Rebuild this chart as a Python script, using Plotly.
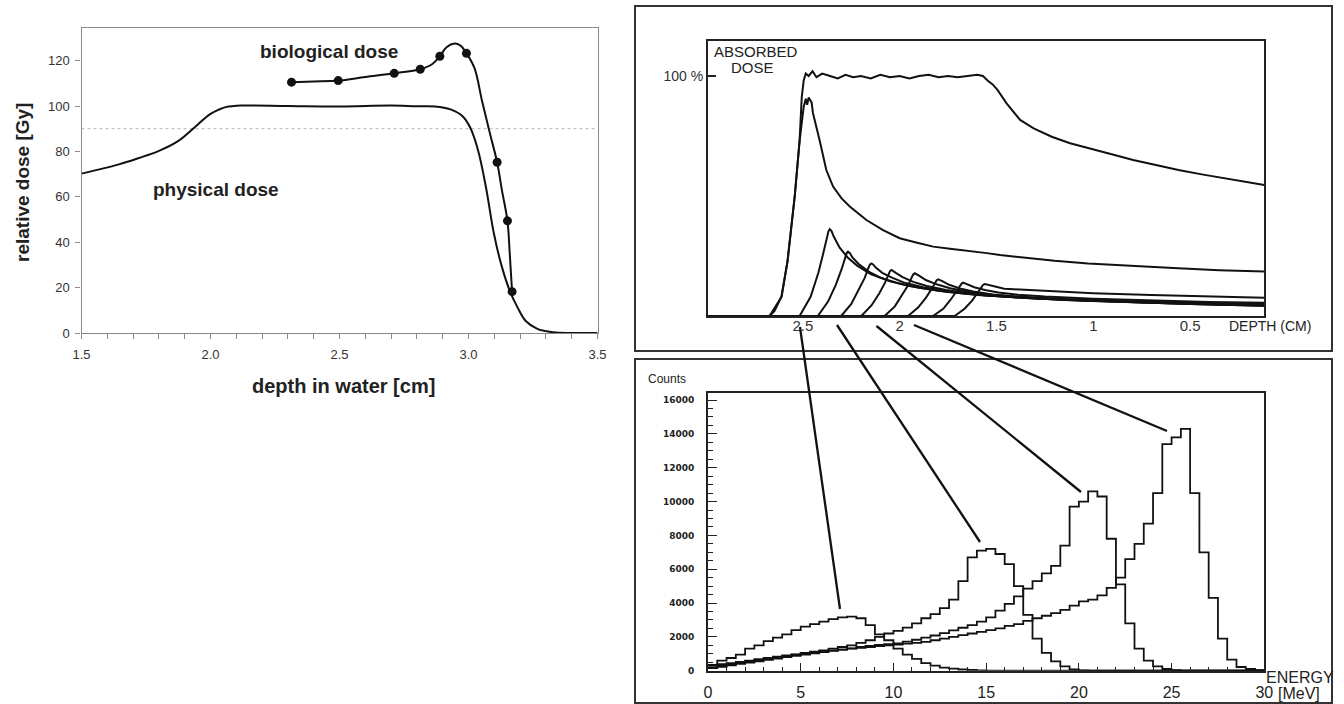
import plotly.graph_objects as go

W, H = 1344, 704

# ---------------- Left panel data ----------------
BIO_DOT_DEPTH = [2.314, 2.495, 2.712, 2.813, 2.889, 2.992, 3.111, 3.151, 3.169]
BIO_DOT_DOSE = [110.5, 111.2, 114.4, 116.2, 121.9, 123.2, 75.2, 49.4, 18.2]
BIO_LINE_DEPTH = [2.314, 2.40, 2.495, 2.60, 2.712, 2.813, 2.86, 2.889, 2.915, 2.946, 2.969, 2.992,
                  3.023, 3.053, 3.084, 3.111, 3.13, 3.151, 3.16, 3.169]
BIO_LINE_DOSE = [110.5, 110.8, 111.2, 112.8, 114.4, 116.2, 118.5, 121.9, 125.9, 127.5, 126.6, 123.2,
                 116.8, 102.0, 87.5, 75.2, 62.6, 49.4, 34.7, 18.2]
PHYS_DEPTH = [1.5, 1.645, 1.72, 1.798, 1.874, 1.951, 1.997, 2.03, 2.059, 2.12, 2.3, 2.5, 2.7, 2.8, 2.87,
              2.93, 2.977, 3.007, 3.038, 3.068, 3.099, 3.13, 3.16, 3.19, 3.221, 3.267, 3.329, 3.4, 3.5]
PHYS_DOSE = [70.2, 74.3, 77.0, 80.1, 84.5, 91.9, 96.3, 98.3, 99.5, 100.2, 100.0, 99.8, 100.2, 99.9, 99.8,
             98.5, 95.5, 90.4, 80.1, 64.0, 43.5, 28.9, 18.6, 11.3, 5.4, 1.8, 0.3, 0.0, 0.0]
THRESHOLD = 90
LEFT_XTICKS = [1.5, 2.0, 2.5, 3.0, 3.5]

# ---------------- Top-right panel data (depth cm, dose %) ----------------
SOBP = [[2.99, 0], [2.672, 0], [2.647, 2], [2.611, 8], [2.579, 23], [2.542, 50], [2.517, 73], [2.506, 91],
        [2.496, 98], [2.485, 101], [2.47, 100], [2.45, 102], [2.43, 99.5], [2.40, 101], [2.36, 100],
        [2.32, 99], [2.28, 100.5], [2.24, 99.5], [2.20, 100], [2.15, 99], [2.10, 100.5], [2.05, 99.5],
        [2.00, 100], [1.95, 99], [1.90, 100], [1.85, 100.5], [1.80, 99.5], [1.75, 100], [1.70, 99.5],
        [1.65, 100], [1.60, 100.5], [1.57, 100], [1.545, 98], [1.52, 96.5], [1.495, 94.2], [1.448, 88.6],
        [1.378, 81.7], [1.308, 78.2], [1.215, 74.7], [1.12, 72], [1.027, 69.9], [0.91, 67.5], [0.794, 65],
        [0.68, 62.8], [0.56, 60.8], [0.44, 59], [0.326, 57.4], [0.22, 55.8], [0.117, 54.6]]
PEAK_MAIN = [[2.99, 0], [2.672, 0], [2.61, 8], [2.579, 23], [2.542, 50], [2.517, 73], [2.496, 87],
             [2.485, 90.5], [2.478, 88], [2.47, 91], [2.455, 89], [2.448, 84.6], [2.413, 73], [2.379, 60.8],
             [2.344, 53.9], [2.30, 49], [2.258, 45.6], [2.172, 40], [2.086, 35.8], [2.0, 32.4], [1.91, 30.5],
             [1.827, 28.9], [1.74, 28], [1.655, 27.3], [1.55, 26.2], [1.482, 25.4], [1.35, 24.2], [1.2, 23],
             [1.027, 21.9], [0.8, 20.8], [0.562, 19.9], [0.35, 19.1], [0.117, 18.5]]
PEAK_3 = [[2.99, 0], [2.517, 0], [2.46, 8], [2.42, 18], [2.395, 26], [2.378, 32.5], [2.368, 35.3],
          [2.361, 36.2], [2.352, 35.4], [2.34, 33], [2.31, 28.5], [2.27, 24.5], [2.22, 21], [2.15, 17.5],
          [2.05, 14.5], [1.95, 12.5], [1.8, 10.5], [1.6, 8.8], [1.4, 7.8], [1.1, 6.8], [0.8, 6.0],
          [0.45, 5.3], [0.117, 4.8]]
PEAK_4 = [[2.99, 0], [2.423, 0], [2.37, 6], [2.33, 13], [2.30, 19.5], [2.283, 24], [2.274, 26.2],
          [2.267, 26.8], [2.257, 26.2], [2.245, 24.5], [2.21, 21.5], [2.16, 18.5], [2.10, 16], [2.0, 13.5],
          [1.9, 11.8], [1.75, 10], [1.55, 8.5], [1.3, 7.3], [1.0, 6.3], [0.7, 5.5], [0.4, 4.9], [0.117, 4.4]]
PEAK_5 = [[2.99, 0], [2.302, 0], [2.25, 5], [2.21, 11], [2.18, 16], [2.163, 19.8], [2.154, 21.4],
          [2.146, 21.9], [2.136, 21.4], [2.125, 20.3], [2.09, 18], [2.04, 16], [1.98, 14], [1.88, 12],
          [1.75, 10.3], [1.58, 8.8], [1.35, 7.5], [1.05, 6.4], [0.75, 5.6], [0.45, 4.9], [0.117, 4.3]]
PEAK_6 = [[2.99, 0], [2.198, 0], [2.145, 4.5], [2.105, 9.5], [2.075, 14], [2.058, 17.3], [2.05, 18.7],
          [2.042, 19.2], [2.032, 18.8], [2.02, 18], [1.985, 16.2], [1.93, 14.2], [1.86, 12.5], [1.76, 10.8],
          [1.62, 9.2], [1.42, 7.9], [1.15, 6.7], [0.85, 5.8], [0.5, 5.0], [0.117, 4.3]]
PEAK_7 = [[2.99, 0], [2.078, 0], [2.025, 4], [1.985, 9], [1.955, 13], [1.938, 16.1], [1.93, 17.3],
          [1.922, 17.8], [1.912, 17.4], [1.90, 16.8], [1.865, 15], [1.81, 13.2], [1.74, 11.6], [1.64, 10],
          [1.50, 8.7], [1.30, 7.5], [1.0, 6.4], [0.7, 5.6], [0.4, 5.0], [0.117, 4.6]]
PEAK_8 = [[2.99, 0], [1.957, 0], [1.905, 3.5], [1.865, 7.5], [1.835, 11.3], [1.818, 13.8], [1.809, 14.9],
          [1.801, 15.3], [1.791, 15], [1.78, 14.5], [1.745, 13], [1.69, 11.5], [1.62, 10.2], [1.52, 9],
          [1.38, 8], [1.15, 7], [0.85, 6.1], [0.5, 5.4], [0.117, 5.0]]
PEAK_9 = [[2.99, 0], [1.828, 0], [1.775, 3], [1.735, 7], [1.705, 10.5], [1.688, 12.6], [1.68, 13.5],
          [1.672, 13.9], [1.662, 13.6], [1.65, 13.2], [1.615, 12], [1.56, 10.8], [1.49, 9.8], [1.39, 8.9],
          [1.25, 8.1], [1.0, 7.2], [0.7, 6.4], [0.4, 5.8], [0.117, 5.5]]
PEAK_10 = [[2.99, 0], [1.716, 0], [1.665, 3], [1.625, 6.5], [1.595, 10], [1.578, 12.1], [1.569, 13],
           [1.56, 13.3], [1.55, 13.1], [1.54, 12.9], [1.51, 12.1], [1.46, 11.4], [1.38, 11], [1.2, 10.2],
           [1.0, 9.5], [0.7, 8.7], [0.4, 8.1], [0.117, 7.6]]
DEPTH_TICKS = [2.5, 2, 1.5, 1, 0.5]
DEPTH_TICK_TEXT = ["2.5", "2", "1.5", "1", "0.5"]

# ---------------- Bottom-right panel data (energy spectra) ----------------
ENERGY_EDGES = [0.0, 0.5, 1.0, 1.5, 2.0, 2.5, 3.0, 3.5, 4.0, 4.5, 5.0, 5.5, 6.0, 6.5, 7.0, 7.5, 8.0, 8.5,
                9.0, 9.5, 10.0, 10.5, 11.0, 11.5, 12.0, 12.5, 13.0, 13.5, 14.0, 14.5, 15.0, 15.5, 16.0,
                16.5, 17.0, 17.5, 18.0, 18.5, 19.0, 19.5, 20.0, 20.5, 21.0, 21.5, 22.0, 22.5, 23.0, 23.5,
                24.0, 24.5, 25.0, 25.5, 26.0, 26.5, 27.0, 27.5, 28.0, 28.5, 29.0, 29.5, 30.0]
SPEC_7MEV = [350, 600, 750, 950, 1300, 1500, 1750, 1950, 2150, 2400, 2600, 2750, 2900, 3050, 3150, 3200,
             3100, 2700, 2150, 1800, 1300, 950, 700, 450, 300, 180, 120, 70, 40, 15,
             0, 0, 0, 0, 0, 0, 0, 0, 0, 0, 0, 0, 0, 0, 0, 0, 0, 0, 0, 0, 0, 0, 0, 0, 0, 0, 0, 0, 0, 0, 0]
SPEC_15MEV = [200, 280, 380, 460, 540, 620, 700, 780, 860, 950, 1040, 1120, 1200, 1300, 1400, 1500, 1650,
              1800, 2000, 2200, 2350, 2550, 2800, 3100, 3350, 3700, 4200, 5300, 6700, 7100, 7200, 6900,
              6300, 5000, 3300, 1900, 1050, 550, 250, 80, 20,
              0, 0, 0, 0, 0, 0, 0, 0, 0, 0, 0, 0, 0, 0, 0, 0, 0, 0, 0, 0]
SPEC_20MEV = [150, 230, 320, 400, 480, 560, 640, 720, 800, 880, 950, 1020, 1100, 1170, 1250, 1320, 1400,
              1460, 1520, 1570, 1620, 1720, 1830, 1950, 2080, 2220, 2380, 2540, 2700, 2900, 3150,
              3550, 3950, 4400, 4850, 5300, 5750, 6200, 7400, 9700, 10000, 10600, 10300, 7800, 5100, 2800,
              1300, 600, 250, 100, 30,
              0, 0, 0, 0, 0, 0, 0, 0, 0, 0]
SPEC_25MEV = [300, 380, 450, 520, 600, 680, 750, 830, 900, 970, 1050, 1100, 1150, 1200, 1250, 1300, 1350,
              1400, 1450, 1500, 1550, 1600, 1650, 1700, 1800, 1900, 2000, 2100, 2200, 2300, 2400, 2500,
              2650, 2750, 2950, 3100, 3250, 3400, 3600, 3850, 4100, 4200, 4450, 4900, 5500, 6600, 7500,
              8700, 10500, 13400, 13800, 14300, 10500, 7000, 4300, 1900, 650, 220, 100, 30, 0]
ENERGY_TICKS = [0, 5, 10, 15, 20, 25, 30]
COUNT_TICKS = [0, 2000, 4000, 6000, 8000, 10000, 12000, 14000, 16000]


def px(x):
    return x / W


def py(y):
    return 1 - y / H


fig = go.Figure()

# Left panel
fig.add_trace(go.Scatter(x=[1.5, 3.5], y=[THRESHOLD, THRESHOLD], mode="lines",
                         line=dict(color="#b5b5b5", width=1, dash="dot"), xaxis="x", yaxis="y"))
fig.add_trace(go.Scatter(x=PHYS_DEPTH, y=PHYS_DOSE, mode="lines", line=dict(color="#111", width=2, shape="spline"),
                         xaxis="x", yaxis="y"))
fig.add_trace(go.Scatter(x=BIO_LINE_DEPTH, y=BIO_LINE_DOSE, mode="lines",
                         line=dict(color="#111", width=2, shape="spline"), xaxis="x", yaxis="y"))
fig.add_trace(go.Scatter(x=BIO_DOT_DEPTH, y=BIO_DOT_DOSE, mode="markers",
                         marker=dict(color="#111", size=9), xaxis="x", yaxis="y"))

# Top-right panel
for curve in [SOBP, PEAK_MAIN, PEAK_3, PEAK_4, PEAK_5, PEAK_6, PEAK_7, PEAK_8, PEAK_9, PEAK_10]:
    fig.add_trace(go.Scatter(x=[p[0] for p in curve], y=[p[1] for p in curve], mode="lines",
                             line=dict(color="#111", width=2), xaxis="x2", yaxis="y2"))

# Bottom-right panel
for spec in [SPEC_7MEV, SPEC_15MEV, SPEC_20MEV, SPEC_25MEV]:
    fig.add_trace(go.Scatter(x=ENERGY_EDGES, y=spec, mode="lines",
                             line=dict(color="#111", width=1.8, shape="hv"), xaxis="x3", yaxis="y3"))

sans = "Liberation Sans, Arial, sans-serif"

shapes = []
# outer frames of the right-hand panels
for (x0, y0, x1, y1) in [(635, 6, 1332, 351), (635, 359, 1332, 703)]:
    shapes.append(dict(type="rect", xref="paper", yref="paper", x0=px(x0), y0=py(y0), x1=px(x1), y1=py(y1),
                       line=dict(color="#333", width=2)))
# connectors from depth axis to spectra
for (x0, y0, x1, y1) in [(800, 327, 840, 609), (837, 325, 980, 542), (876.5, 326, 1081, 492),
                         (914, 325, 1167, 431)]:
    shapes.append(dict(type="line", xref="paper", yref="paper", x0=px(x0), y0=py(y0), x1=px(x1), y1=py(y1),
                       line=dict(color="#111", width=2.3)))


def note(text, x, y, size, anchor="center", angle=0):
    return dict(text=text, x=px(x), y=py(y), xref="paper", yref="paper", xanchor=anchor, yanchor="middle",
                textangle=angle, showarrow=False, font=dict(family=sans, size=size, color="#222"))


annotations = [
    note("<b>relative dose [Gy]</b>", 22, 183, 19, angle=-90),
    note("<b>depth in water [cm]</b>", 343, 386, 20),
    note("<b>biological dose</b>", 329, 51, 19),
    note("<b>physical dose</b>", 216, 189, 19),
    note("ABSORBED", 712, 52, 15, anchor="left"),
    note("DOSE", 729, 67, 15, anchor="left"),
    note("DEPTH (CM)", 1270, 326, 14),
    note("Counts", 667, 379, 12),
    note("ENERGY", 1336, 677, 16, anchor="right"),
    note("[MeV]", 1276, 693, 16, anchor="left"),
]

fig.update_layout(
    width=W, height=H, margin=dict(l=0, r=0, t=0, b=0, autoexpand=False), showlegend=False,
    paper_bgcolor="white", plot_bgcolor="white",
    shapes=shapes, annotations=annotations,
    xaxis=dict(domain=[px(81.5), px(597.5)], anchor="y", range=[1.5, 3.5], tickmode="array", automargin=False,
               tickvals=LEFT_XTICKS, ticktext=["1.5", "2.0", "2.5", "3.0", "3.5"],
               ticks="outside", ticklen=5, tickcolor="#888", showline=True, linecolor="#888", linewidth=1.3,
               mirror=True, showgrid=False, zeroline=False,
               minor=dict(tickmode="linear", tick0=1.5, dtick=0.1, ticks="outside", ticklen=5, tickcolor="#888"),
               tickfont=dict(family=sans, size=13, color="#333"), ticklabelstandoff=4),
    yaxis=dict(domain=[py(333), py(27.7)], anchor="x", range=[0, 134.5], tickmode="linear", tick0=0, dtick=20,
               automargin=False,
               ticks="outside", ticklen=5, tickcolor="#888", showline=True, linecolor="#888", linewidth=1.3,
               mirror=True, showgrid=False, zeroline=False,
               tickfont=dict(family=sans, size=13, color="#333"), ticklabelstandoff=3),
    xaxis2=dict(domain=[px(708), px(1264.3)], anchor="y2", range=[2.99, 0.117], tickmode="array",
                automargin=False,
                tickvals=DEPTH_TICKS, ticktext=DEPTH_TICK_TEXT, ticks="", showline=True, linecolor="#222",
                linewidth=2, mirror=True, showgrid=False, zeroline=False,
                tickfont=dict(family=sans, size=15, color="#333"), ticklabelstandoff=-5),
    yaxis2=dict(domain=[py(316), py(40.7)], anchor="x2", range=[0, 114.7], tickmode="array", tickvals=[100],
                automargin=False,
                ticktext=["100 %"], ticks="inside", ticklen=8, tickwidth=2, tickcolor="#222", showline=True,
                linecolor="#222", linewidth=2, mirror=True, showgrid=False, zeroline=False,
                tickfont=dict(family=sans, size=14, color="#333")),
    xaxis3=dict(domain=[px(708), px(1264.3)], anchor="y3", range=[0, 30], tickmode="array",
                automargin=False,
                tickvals=ENERGY_TICKS, ticktext=["0", "5", "10", "15", "20", "25", "30"],
                ticks="inside", ticklen=8, tickcolor="#222", showline=True, linecolor="#222", linewidth=2,
                mirror=True, showgrid=False, zeroline=False,
                minor=dict(tickmode="linear", tick0=0, dtick=1, ticks="inside", ticklen=4, tickcolor="#222"),
                tickfont=dict(family=sans, size=16, color="#222"), ticklabelstandoff=6),
    yaxis3=dict(domain=[py(670.7), py(393.3)], anchor="x3", range=[0, 16400], tickmode="array",
                automargin=False,
                tickvals=COUNT_TICKS, ticktext=[str(v) for v in COUNT_TICKS],
                ticks="inside", ticklen=9, tickcolor="#222", showline=True, linecolor="#222", linewidth=2,
                mirror=True, showgrid=False, zeroline=False,
                minor=dict(tickmode="linear", tick0=0, dtick=500, ticks="inside", ticklen=5, tickcolor="#222"),
                tickfont=dict(family="DejaVu Sans", size=9, color="#222", weight="bold"), ticklabelstandoff=10),
)

fig.write_html("out.html", config={"displayModeBar": False},
               post_script="document.body.style.margin='0';document.body.style.overflow='hidden';")
